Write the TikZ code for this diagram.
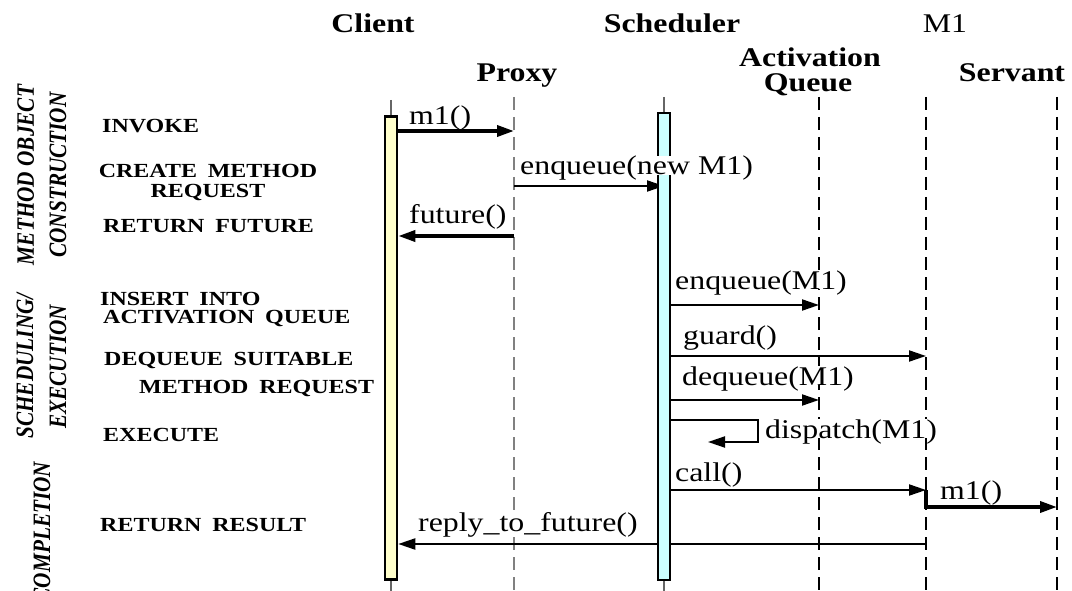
\documentclass[tikz,border=0pt]{standalone}
\usepackage{fontspec}
\setmainfont{Liberation Serif}[FakeStretch=1.18]
\newfontfamily\sidefont{Liberation Serif}[FakeStretch=0.85]
\newfontfamily\stepfont{Liberation Serif}[FakeStretch=1.2,WordSpace=1.8]
\usepackage{tikz}
\usetikzlibrary{arrows.meta}
\definecolor{clientfill}{HTML}{FFFFCC}
\definecolor{schedfill}{HTML}{CCFFFF}
\tikzset{
  head/.style={font=\bfseries\fontsize{27}{27}\selectfont, anchor=base, inner sep=0},
  phase/.style={font=\sidefont\bfseries\itshape\fontsize{25}{25}\selectfont, rotate=90, anchor=base, inner sep=0},
  stepname/.style={font=\stepfont\bfseries\fontsize{20}{20}\selectfont, anchor=base west, inner sep=0},
  msgtext/.style={font=\fontsize{27}{27}\selectfont, anchor=base west, inner sep=0, text depth=0pt, fill=white},
  msg/.style={line width=2pt, -{Triangle[length=17pt,width=11pt]}},
  thickmsg/.style={msg, line width=3.5pt},
  life/.style={line width=2pt, dash pattern=on 13pt off 7pt},
  bar/.style={draw, line width=2.5pt, minimum width=12pt, inner sep=0}
}
\begin{document}
\begin{tikzpicture}[x=1pt,y=-1pt]
\useasboundingbox (0,0) rectangle (1072,591);
\node [head] (client) at (373,33) {Client};
\node [head] (scheduler) at (672,33) {Scheduler};
\node [head, font=\fontsize{27}{27}\selectfont] (m1head) at (945,33) {M1};
\node [head] (proxy) at (517,82) {Proxy};
\node [head] (activation) at (810,67) {Activation};
\node [head] (queue) at (808,92) {Queue};
\node [head] (servant) at (1012,82) {Servant};

\node [phase] (methobj) at (34,175) {METHOD OBJECT};
\node [phase] (construction) at (66,175) {CONSTRUCTION};
\node [phase] (scheduling) at (33,366) {SCHEDULING/};
\node [phase] (execution) at (66,367) {EXECUTION};
\node [phase] (completion) at (50,532) {COMPLETION};

\node [stepname] (invoke) at (102,133) {INVOKE};
\node [stepname, anchor=base] (create) at (208,178) {CREATE METHOD};
\node [stepname, anchor=base] (create2) at (208,197) {REQUEST};
\node [stepname] (retfuture) at (103,233) {RETURN FUTURE};
\node [stepname] (insert) at (100,305) {INSERT INTO};
\node [stepname] (insert2) at (103,323) {ACTIVATION QUEUE};
\node [stepname] (dequeue) at (104,365) {DEQUEUE SUITABLE};
\node [stepname] (dequeue2) at (139,393) {METHOD REQUEST};
\node [stepname] (execute) at (103,441) {EXECUTE};
\node [stepname] (retresult) at (100,531) {RETURN RESULT};

\coordinate (ctop) at (391,100);
\coordinate (cbot) at (391,591);
\coordinate (ptop) at (514,97);
\coordinate (pbot) at (514,591);
\coordinate (stop) at (664,97);
\coordinate (sbot) at (664,591);
\coordinate (qtop) at (819,97);
\coordinate (qbot) at (819,591);
\coordinate (mtop) at (926,97);
\coordinate (mbot) at (926,591);
\coordinate (vtop) at (1057,97);
\coordinate (vbot) at (1057,591);
\draw [line width=1.5pt, black!60] (ctop) -- (cbot);
\draw [line width=1.5pt, black!60] (stop) -- (sbot);
\draw [life, line width=1.6pt, black!50] (ptop) -- (pbot);
\draw [life] (qtop) -- (qbot);
\draw [life] (mtop) -- (mbot);
\draw [life] (vtop) -- (vbot);

\coordinate (r1) at (0,131);
\coordinate (r2) at (0,186);
\coordinate (r3) at (0,236);
\coordinate (r4) at (0,305);
\coordinate (r5) at (0,356);
\coordinate (r6) at (0,400);
\coordinate (r7) at (0,420);
\coordinate (r8) at (0,490);
\coordinate (r9) at (0,507);
\coordinate (r10) at (0,544);

\node [bar, fill=clientfill, minimum height=463pt] (cbar) at (391,348) {};
\draw [thickmsg] (cbar.east |- r1) -- (ptop |- r1);
\draw [msg] (ptop |- r2) -- (stop |- r2);
\draw [thickmsg] (ptop |- r3) -- (cbar.east |- r3);
\draw [msg] (stop |- r4) -- (qtop |- r4);
\draw [msg] (stop |- r5) -- (mtop |- r5);
\draw [msg] (stop |- r6) -- (qtop |- r6);
\draw [msg] (stop |- r7) -- ++(94,0) -- ++(0,22) -- ++(-50,0);
\draw [msg] (stop |- r8) -- (mtop |- r8);
\draw [thickmsg] (mtop |- r8) -- (mtop |- r9) -- (vtop |- r9);
\draw [msg] (mtop |- r10) -- (cbar.east |- r10);
\node [bar, fill=schedfill, minimum height=467pt] (sbar) at (664,346.5) {};

\node [msgtext] (lm1) at (409,125) {m1()};
\node [msgtext] (lenqnew) at (520,175) {enqueue(new M1)};
\node [msgtext] (lfuture) at (409,224) {future()};
\node [msgtext] (lenq) at (675,289) {enqueue(M1)};
\node [msgtext] (lguard) at (683,344) {guard()};
\node [msgtext] (ldeq) at (682,385) {dequeue(M1)};
\node [msgtext] (ldispatch) at (765,438) {dispatch(M1)};
\node [msgtext] (lcall) at (675,481) {call()};
\node [msgtext] (lm1b) at (940,499) {m1()};
\node [msgtext] (lreply) at (418,531) {reply\_to\_future()};
\end{tikzpicture}
\end{document}
